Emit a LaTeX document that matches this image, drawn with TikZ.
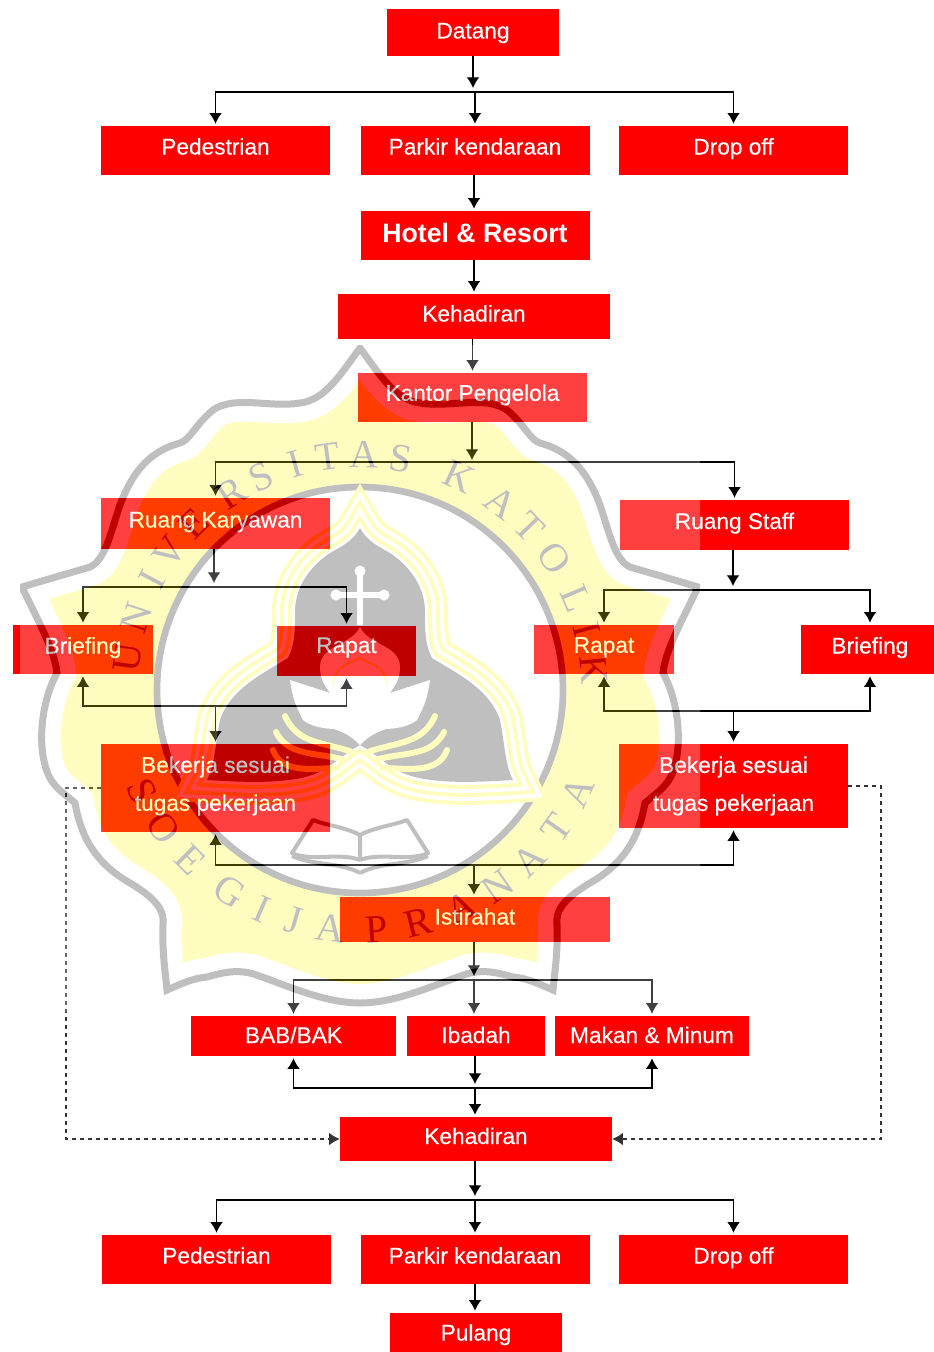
\documentclass[tikz,border=0pt]{standalone}
\usepackage{fontspec}
\setmainfont{Liberation Sans}
\newfontfamily\boxfont[FakeBold=.4]{Liberation Sans}
\newfontfamily\sealfont{Liberation Serif}
\usetikzlibrary{arrows.meta,calc}
\tikzset{
  redbox/.style={fill=red,text=white,inner sep=0pt,minimum width=229*.75pt,minimum height=49*.75pt,
    font=\boxfont\fontsize{17}{20}\selectfont,text height=12pt,text depth=6pt},
  workbox/.style={redbox,text height=,text depth=,align=center,font=\boxfont\fontsize{17}{28.5}\selectfont},
  flow/.style={black,line width=.95pt,shorten >=1.5pt},
  dashflow/.style={black!80,line width=.9pt,dashed},
  sealletter/.style={font=\sealfont\fontsize{30}{30}\selectfont,black,inner sep=0pt},
  drop/.style={text depth=#1}
}
% outline of the seal
\newcommand\sealline{(0,348) .. controls (-20,375) and (-35,400) .. (-60,403)
  .. controls (-90,408) and (-125,395) .. (-147,410)
  .. controls (-165,425) and (-170,440) .. (-180,443)
  .. controls (-205,450) and (-225,465) .. (-240,505)
  .. controls (-250,535) and (-255,560) .. (-270,567)
  .. controls (-290,573) and (-315,580) .. (-338,587)
  .. controls (-325,615) and (-305,650) .. (-303,673)
  .. controls (-318,700) and (-322,740) .. (-315,765)
  .. controls (-310,785) and (-300,790) .. (-285,803)
  .. controls (-280,830) and (-270,860) .. (-230,883)
  .. controls (-205,898) and (-195,910) .. (-197,925)
  .. controls (-198,950) and (-195,970) .. (-193,990)
  .. controls (-175,982) and (-165,978) .. (-153,977)
  .. controls (-135,972) and (-125,970) .. (-110,973)
  .. controls (-85,980) and (-40,1003) .. (0,1003)
  .. controls (40,1003) and (85,980) .. (110,973)
  .. controls (125,970) and (135,972) .. (153,977)
  .. controls (165,978) and (175,982) .. (193,990)
  .. controls (195,970) and (198,950) .. (197,925)
  .. controls (195,910) and (205,898) .. (230,883)
  .. controls (270,860) and (280,830) .. (285,803)
  .. controls (300,790) and (310,785) .. (315,765)
  .. controls (322,740) and (318,700) .. (303,673)
  .. controls (305,650) and (325,615) .. (338,587)
  .. controls (315,580) and (290,573) .. (270,567)
  .. controls (255,560) and (250,535) .. (240,505)
  .. controls (225,465) and (205,450) .. (180,443)
  .. controls (170,440) and (165,425) .. (147,410)
  .. controls (125,395) and (90,408) .. (60,403)
  .. controls (35,400) and (20,375) .. (0,348) -- cycle}
% outline of the grey lobes
\newcommand\lobeline{(0,528) .. controls (-8,542) and (-18,546) .. (-30,553)
  .. controls (-48,565) and (-65,585) .. (-65,612)
  .. controls (-65,630) and (-65,645) .. (-72,658)
  .. controls (-100,675) and (-130,690) .. (-140,720)
  .. controls (-145,745) and (-145,765) .. (-153,780)
  .. controls (-120,782) and (-70,785) .. (-43,773)
  .. controls (-25,765) and (-18,755) .. (0,745)
  .. controls (18,755) and (25,765) .. (43,773)
  .. controls (70,785) and (120,782) .. (153,780)
  .. controls (145,765) and (145,745) .. (140,720)
  .. controls (130,690) and (100,675) .. (72,658)
  .. controls (65,645) and (65,630) .. (65,612)
  .. controls (65,585) and (48,565) .. (30,553)
  .. controls (18,546) and (8,542) .. (0,528) -- cycle}
\begin{document}
\begin{tikzpicture}[x=.75pt,y=-.75pt,>={Latex[length=8pt,width=9.5pt]}]
  \useasboundingbox (0,0) rectangle (934,1352);
  % boxes, arrival
  \node[redbox,drop=3pt,minimum width=172*.75pt,minimum height=47*.75pt] (datang) at (473,32.5) {Datang};
  \node[redbox] (pedestrianA) at (215.5,150.5) {Pedestrian};
  \node[redbox] (parkirA) at (475,150.5) {Parkir kendaraan};
  \node[redbox] (dropA) at (733.5,150.5) {Drop off};
  \node[redbox,drop=1.5pt,font=\bfseries\fontsize{20}{24}\selectfont] (hotel) at (475,235.5) {Hotel \& Resort};
  \node[redbox,drop=4.5pt,minimum width=272*.75pt,minimum height=45*.75pt] (hadirA) at (474,316.5) {Kehadiran};
  \node[redbox,drop=7pt] (kantor) at (472.5,397.5) {Kantor Pengelola};
  % boxes, work
  \node[redbox,minimum height=51*.75pt] (karyawan) at (215.5,523.5) {Ruang Karyawan};
  \node[redbox,minimum height=50*.75pt] (staff) at (734.5,525) {Ruang Staff};
  \node[redbox,minimum width=140*.75pt] (briefA) at (83,649.5) {Briefing};
  \node[redbox,drop=9pt,minimum width=139*.75pt,minimum height=50*.75pt] (rapatA) at (346.5,651) {Rapat};
  \node[redbox,drop=7pt,minimum width=140*.75pt] (rapatB) at (604,649.5) {Rapat};
  \node[redbox,minimum width=133*.75pt] (briefB) at (867.5,649.5) {\hspace*{3.6pt}Briefing};
  \node[workbox,minimum height=88*.75pt] (kerjaA) at (215.5,788) {Bekerja sesuai\\tugas pekerjaan\rule[-6.6pt]{0pt}{1pt}};
  \node[workbox,minimum height=84*.75pt] (kerjaB) at (733.5,786) {Bekerja sesuai\\tugas pekerjaan};
  % boxes, break and departure
  \node[redbox,drop=4.5pt,minimum width=270*.75pt,minimum height=45*.75pt] (istirahat) at (475,919.5) {Istirahat};
  \node[redbox,drop=1.5pt,minimum width=205*.75pt,minimum height=40*.75pt] (bab) at (293.5,1036) {BAB/BAK};
  \node[redbox,drop=1.5pt,minimum width=138*.75pt,minimum height=40*.75pt] (ibadah) at (476,1036) {Ibadah};
  \node[redbox,drop=1.5pt,minimum width=194*.75pt,minimum height=40*.75pt] (makan) at (652,1036) {Makan \& Minum};
  \node[redbox,drop=4.5pt,minimum width=272*.75pt,minimum height=44*.75pt] (hadirB) at (476,1139) {Kehadiran};
  \node[redbox] (pedestrianB) at (216.5,1259.5) {Pedestrian};
  \node[redbox] (parkirB) at (475,1259.5) {Parkir kendaraan};
  \node[redbox] (dropB) at (733.5,1259.5) {Drop off};
  \node[redbox,drop=0pt,minimum width=172*.75pt,minimum height=39*.75pt] (pulang) at (476,1332.5) {Pulang};
  % free ends of the connectors
  \coordinate (busA) at (473,92);
  \coordinate (busB) at (472,462);
  \coordinate (busC) at (214,587);
  \coordinate (busD) at (215.5,706);
  \coordinate (busE) at (733,590);
  \coordinate (busF) at (733.5,711);
  \coordinate (busG) at (474,865);
  \coordinate (busH) at (474,980);
  \coordinate (busI) at (475,1088);
  \coordinate (busJ) at (475,1200);
  \coordinate (briefX) at (870,0);
  \coordinate (dashA) at (66,788);
  \coordinate (dashB) at (881,786);
  % connectors
  \draw[flow,->] (datang.south-|busA) -- ($(busA)+(0,-2)$);
  \draw[flow,->] (busA) -| (pedestrianA.north);
  \draw[flow,->] (busA) -| (dropA.north);
  \draw[flow,->] (busA-|parkirA.north) -- (parkirA.north);
  \draw[flow,->] (parkirA.south-|hadirA.north) -- (hotel.north-|hadirA.north);
  \draw[flow,->] (hotel.south-|hadirA.north) -- (hadirA.north);
  \draw[flow,->] (hadirA.south-|kantor.north) -- (kantor.north);
  \draw[flow,->] (kantor.south-|busB) -- (busB);
  \draw[flow,->] (busB) -| (karyawan.north);
  \draw[flow,->] (busB) -| (staff.north);
  \draw[flow,->] (karyawan.south-|busC) -- ($(busC)+(0,-2)$);
  \draw[flow,->] (busC) -| (briefA.north);
  \draw[flow,->] (busC) -| (rapatA.north);
  \draw[flow,->] (busD) -| (briefA.south);
  \draw[flow,->] (busD) -| (rapatA.south);
  \draw[flow,->] (busD) -- (kerjaA.north);
  \draw[flow,->] (staff.south-|busE) -- ($(busE)+(0,-2)$);
  \draw[flow,->] (busE) -| (rapatB.north);
  \draw[flow,->] (busE) -| (briefB.north-|briefX);
  \draw[flow,->] (busF) -| (rapatB.south);
  \draw[flow,->] (busF) -| (briefB.south-|briefX);
  \draw[flow,->] (busF) -- (kerjaB.north);
  \draw[flow,->] (busG) -| (kerjaA.south);
  \draw[flow,->] (busG) -| (kerjaB.south);
  \draw[flow,->] (busG) -- (istirahat.north-|busG);
  \draw[flow,->] (istirahat.south-|busH) -- ($(busH)+(0,-2)$);
  \draw[flow,->] (busH) -| (bab.north);
  \draw[flow,->] (busH) -| (makan.north);
  \draw[flow,->] (busH) -- (ibadah.north-|busH);
  \draw[flow,->] (ibadah.south-|busI) -- ($(busI)+(0,-2)$);
  \draw[flow,->] (busI) -| (bab.south);
  \draw[flow,->] (busI) -| (makan.south);
  \draw[flow,->] (busI) -- (hadirB.north-|busI);
  \draw[flow,->] (hadirB.south-|busJ) -- ($(busJ)+(0,-2)$);
  \draw[flow,->] (busJ) -| (pedestrianB.north);
  \draw[flow,->] (busJ) -| (dropB.north);
  \draw[flow,->] (busJ) -- (parkirB.north-|busJ);
  \draw[flow,->] (parkirB.south-|busJ) -- (pulang.north-|busJ);
  \draw[dashflow,->] (kerjaA.west) -- (dashA) |- (hadirB.west);
  \draw[dashflow,->] (kerjaB.east) -- (dashB) |- (hadirB.east);
  % seal laid over the chart
  \begin{scope}[opacity=.25,transparency group]
    \clip (20,345) rectangle (700,1012);
    \fill[white] (20,345) rectangle (700,1012);
    \begin{scope}[shift={(360,0)}]
      \fill[yellow] \sealline;
      \draw[white,line width=38*.75pt] \sealline;
      \draw[black,line width=7*.75pt] \sealline;
    \end{scope}
    \fill[white,draw=black,line width=5pt] (360,690) circle (203);
    % emblem bands, then its grey lobes
    \begin{scope}[shift={(360,0)}]
      \foreach \w/\c in {46/yellow,38/white,30/yellow,22/white,14/yellow,6/white}
        \draw[\c,line width=\w*.75pt] \lobeline;
      \fill[black] \lobeline;
    \end{scope}
    \foreach \s in {-1,1} {
      \begin{scope}[shift={(360,0)},xscale=\s]
        % flower
        \fill[white] (0,627) .. controls (-8,645) and (-40,645) .. (-40,667)
          .. controls (-40,680) and (-35,685) .. (-30,693)
          -- (-70,680) .. controls (-68,695) and (-65,705) .. (-57,720)
          .. controls (-45,730) and (-25,728) .. (-23,730)
          .. controls (-10,735) and (-5,740) .. (0,745) -- cycle;
        \draw[yellow,line width=1.2pt] (-27,685) .. controls (-25,665) and (-12,665) .. (0,658);
        % leaves
        \draw[yellow,line width=4.5pt,line cap=round] (-8,752) .. controls (-35,742) and (-62,745) .. (-75,716);
        \draw[yellow,line width=4.5pt,line cap=round] (-15,760) .. controls (-42,752) and (-72,757) .. (-84,732);
        \draw[yellow,line width=4.5pt,line cap=round] (-22,768) .. controls (-45,768) and (-78,775) .. (-87,750);
        % book
        \fill[white] (0,833) .. controls (-15,825) and (-35,825) .. (-47,820) -- (-70,855)
          .. controls (-50,865) and (-20,862) .. (0,873) -- cycle;
        \draw[black,line width=3pt,line join=round] (0,835) .. controls (-15,827) and (-35,825) .. (-47,820) -- (-68,853)
          .. controls (-50,862) and (-20,852) .. (0,860);
        \draw[black,line width=3pt] (-68,856) .. controls (-45,866) and (-20,862) .. (0,873);
      \end{scope}
    }
    \draw[black,line width=3pt] (360,835) -- (360,860);
    % cross
    \draw[white,line width=4.2pt] (360,572) -- (360,625) (337,595) -- (383,595);
    \fill[white] (360,571) circle (5.5) (336,595) circle (5.5) (384,595) circle (5.5);
    \foreach \a/\l in {172/U,162/N,152/I,144/V,135/E,123/R,115/S,106/I,98/T,89/A,80/S,65/K,53/A,44/T,34/O,23/L,15/I,5/K} {
      \begin{scope}[shift={(360,690)},y=.75pt]
        \node[sealletter,rotate=\a-90] (top\a) at (\a:235) {\l};
      \end{scope}
    }
    \foreach \a/\l in {205/S,215/O,225/E,237/G,246/I,254/J,263/A,274/P,284/R,295/A,305/N,315/A,325/T,335/A} {
      \begin{scope}[shift={(360,690)},y=.75pt]
        \node[sealletter,rotate=\a+90] (low\a) at (\a:240) {\l};
      \end{scope}
    }
  \end{scope}
\end{tikzpicture}
\end{document}
